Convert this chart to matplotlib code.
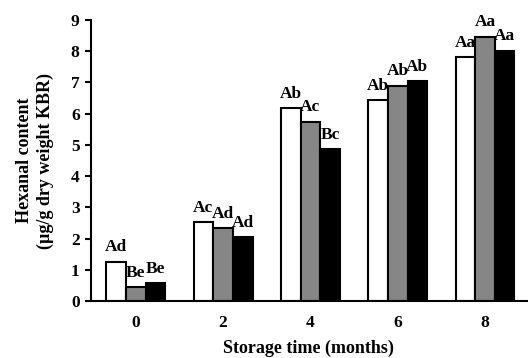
import matplotlib
matplotlib.use("Agg")
import matplotlib.pyplot as plt
import numpy as np

plt.rcParams['font.family'] = ['Liberation Serif', 'DejaVu Serif']

months = ["0", "2", "4", "6", "8"]
white_vals = [1.26, 2.54, 6.18, 6.44, 7.81]
gray_vals = [0.44, 2.33, 5.75, 6.90, 8.47]
black_vals = [0.57, 2.04, 4.87, 7.05, 8.02]
white_labels = ["Ad", "Ac", "Ab", "Ab", "Aa"]
gray_labels = ["Be", "Ad", "Ac", "Ab", "Aa"]
black_labels = ["Be", "Ad", "Bc", "Ab", "Aa"]

fig = plt.figure(figsize=(5.28, 3.58), dpi=100)
ax = fig.add_axes([0.172, 0.159, 0.826, 0.785])

x = np.arange(len(months))
w = 0.225
series = [(white_vals, white_labels, "white", -w),
          (gray_vals, gray_labels, "#868686", 0),
          (black_vals, black_labels, "black", w)]
for vals, labs, col, off in series:
    ax.bar(x + off, vals, width=w, color=col, edgecolor="black", linewidth=1.5)
    for xi, v, lab in zip(x, vals, labs):
        ax.text(xi + off, v + 0.2, lab, ha="center", va="bottom",
                fontsize=12.5, fontweight="bold")

ax.set_xlim(-0.514, 4.48)
ax.set_ylim(0, 9)
ax.set_yticks(range(0, 10))
ax.set_xticks(x)
ax.set_xticklabels(months)
for s in ["top", "right"]:
    ax.spines[s].set_visible(False)
for s in ["left", "bottom"]:
    ax.spines[s].set_linewidth(1.5)
ax.tick_params(axis="y", direction="out", length=4, width=1.5, labelsize=12.5, pad=4)
ax.tick_params(axis="x", length=0, labelsize=12.5, pad=10)
for t in ax.get_xticklabels() + ax.get_yticklabels():
    t.set_fontweight("bold")
ax.set_xlabel("Storage time (months)", fontsize=13, fontweight="bold", labelpad=6)
ax.set_ylabel("Hexanal content\n(\u00b5g/g dry weight KBR)", fontsize=13,
              fontweight="bold", labelpad=12, linespacing=1.3)

fig.savefig("out.png", dpi=100)
